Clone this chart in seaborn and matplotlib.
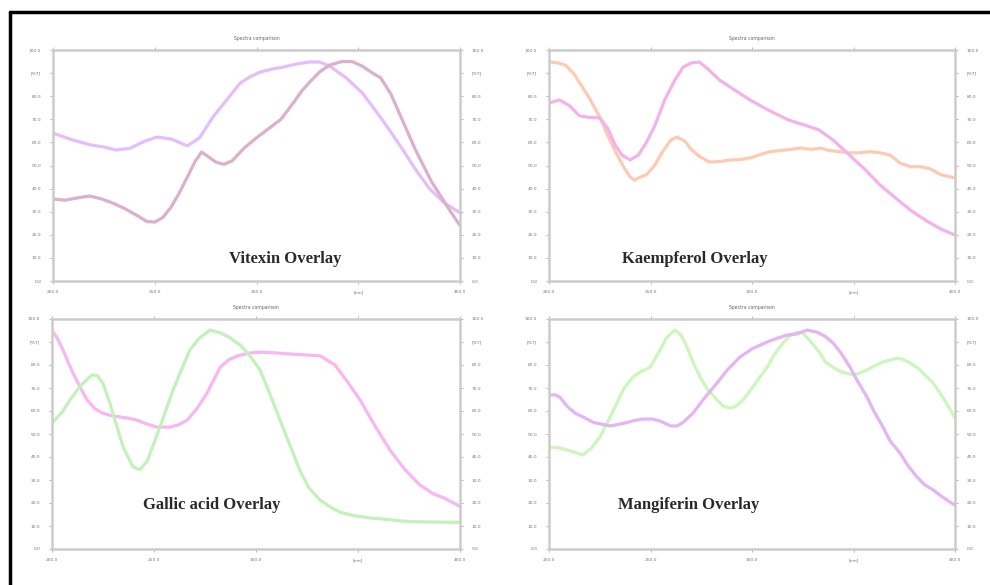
import numpy as np
import pandas as pd
import matplotlib
matplotlib.use("Agg")
import matplotlib.pyplot as plt
import seaborn as sns
from matplotlib.lines import Line2D

# ---------------- data ----------------
vit_lav_x = [200, 205, 210, 218, 225, 231, 238, 245, 251, 258, 266, 272, 278.6, 285, 292, 297, 302, 308, 313, 320, 326, 331, 336, 344, 352, 360, 366, 372, 378, 385, 392, 400]
vit_lav_y = [64, 62.5, 61, 59, 58, 56.7, 57.5, 60.5, 62.3, 61.5, 58.5, 62, 71, 78, 85.7, 88.5, 90.5, 91.8, 92.6, 94, 94.8, 94.8, 93, 88, 81.4, 72, 64.5, 56.7, 48.5, 40, 34, 29.5]
vit_mau_x = [200, 206, 212, 218, 224, 230, 236, 242, 246, 250, 254, 258, 262, 266, 270, 273, 276, 280, 284, 288, 294, 300, 306, 312, 318, 322, 326, 331, 336, 342, 347, 352, 357, 361, 366, 370, 374, 378, 382, 386, 390, 395, 400]
vit_mau_y = [35.5, 35, 36, 36.8, 35.5, 33.5, 31, 28, 25.8, 25.5, 27.5, 32, 38, 45, 52, 55.8, 54, 51.5, 50.5, 52, 57.6, 62, 66, 70, 77, 82, 86, 90.5, 93.5, 95, 95, 93, 90, 88, 81, 73, 65, 57, 50, 43, 37.5, 30.5, 24]

kae_ora_x = [200, 204, 208, 212, 215, 220, 225, 229, 233, 237, 240, 242, 245, 248, 252, 256, 260, 263, 267, 270, 274, 279, 285, 290, 294, 300, 305, 309, 314, 319, 324, 329, 334, 338, 343, 348, 353, 358, 363, 368, 373, 378, 383, 388, 393, 400]
kae_ora_y = [94.8, 94.5, 93.5, 90, 86, 79, 71, 63, 55.5, 49, 45, 43.7, 45, 46, 50, 56, 61, 62.3, 60.5, 57, 54, 51.5, 51.8, 52.5, 52.5, 53.5, 55, 56, 56.5, 57, 57.6, 57, 57.5, 56.5, 56, 55.5, 55.5, 56, 55.5, 54.5, 51, 49.5, 49.5, 48.5, 46, 44.6]
kae_mag_x = [200, 205, 210, 215, 220, 225, 229, 232.5, 236, 240, 244, 248, 252, 257, 262, 266, 270, 274, 278, 284, 290, 299, 308, 318, 326, 333, 340, 348, 356, 363, 370, 378, 386, 393, 400]
kae_mag_y = [77, 78.4, 76, 71.5, 70.8, 70.6, 66, 59, 54.5, 52.4, 54.5, 60, 67, 78.4, 87, 92.5, 94.4, 94.8, 92, 87, 83.5, 78.4, 74, 69.7, 67.5, 65.4, 61, 54.5, 48, 41.6, 36.5, 30.7, 26, 22.5, 19.9]

gal_mag_x = [200, 203, 205.4, 208, 210.3, 214, 217.2, 221, 225, 229, 233.3, 238, 241.7, 246, 251.5, 257.8, 262, 266.2, 271, 276, 282.4, 287, 292.2, 297, 302, 309, 316.7, 324, 331.4, 338.7, 345, 351, 358, 365.7, 373, 380.4, 387, 392.6, 400]
gal_mag_y = [95.2, 91, 86.5, 81, 76.5, 70, 64.8, 61, 59, 58, 57.4, 56.8, 56, 54.5, 53, 53, 54, 56, 61, 67.8, 79, 82.5, 84.3, 85.2, 85.6, 85.3, 84.8, 84.4, 84, 80, 72.5, 64.8, 54, 43, 34.5, 27.8, 24, 22, 18.5]
gal_grn_x = [200, 205, 208.8, 214, 219.6, 222, 225, 228.5, 231.9, 235, 239.7, 243, 246.6, 252.9, 259.3, 263, 267.6, 272, 277.5, 282.4, 287, 292.2, 297, 302, 307, 311.8, 316.7, 321.6, 326, 331.4, 336, 341.2, 348, 355.9, 365, 370.6, 380, 390.2, 400]
gal_grn_y = [54.8, 59.5, 64.8, 71, 75.7, 75.5, 72, 63, 53, 44, 35.7, 34.5, 38, 53, 69, 77, 86.5, 91.5, 95.2, 94, 92, 88.7, 84, 77.8, 67, 56, 45, 34, 26.5, 21.3, 18.5, 16, 14.5, 13.5, 12.8, 12.2, 11.8, 11.7, 11.6]

man_grn_x = [200, 205.4, 211, 216.7, 221, 225.1, 229, 233.5, 237, 241.4, 245, 249.8, 254.7, 258, 262.1, 265, 268, 271, 274.4, 278, 282.8, 286, 289.2, 292, 295.6, 300, 307.4, 311, 315.3, 318.5, 322.2, 325, 327.1, 330, 333.5, 336, 339.9, 344, 349.8, 353, 356.7, 360, 364.5, 371.4, 374, 377.8, 382, 389.2, 394, 400]
man_grn_y = [44.3, 43.9, 42.5, 40.9, 44, 48.7, 55.5, 63.5, 70, 74.8, 77, 79, 86.5, 92, 95.2, 93, 87.8, 81, 74.8, 69.5, 64.8, 62, 61.3, 62, 64.8, 70, 79, 84.5, 89.6, 92.5, 94.3, 94, 92, 89, 85.2, 81.5, 79, 77, 75.7, 76.5, 77.8, 79.5, 81.3, 83, 82.5, 80.9, 78.5, 72.2, 66, 57]
man_mag_x = [200, 203, 205.4, 209, 213, 216.7, 222, 230, 236, 241.4, 246, 251.2, 255, 260, 263.1, 266, 270.9, 276, 282.8, 288, 294.1, 300, 307.4, 312, 317.2, 322, 327.1, 332, 336, 339.9, 344, 348.3, 352, 356.7, 360, 364.5, 368, 372.9, 377, 381.3, 385, 389.2, 394, 400]
man_mag_y = [67, 67, 66, 62, 59, 57.4, 55, 53.5, 54.5, 55.7, 56.5, 56.5, 55.5, 53.5, 53.5, 55, 59, 65, 72.2, 78, 83.5, 87, 90, 91.5, 93, 93.5, 95.2, 94.3, 92.5, 89.6, 85, 79, 73, 66, 60, 53, 47, 41.7, 36, 31.3, 28, 25.7, 22.5, 19]

panel_labels = ["Vitexin Overlay", "Kaempferol Overlay", "Gallic acid Overlay", "Mangiferin Overlay"]
x_ticks = [200, 250, 300, 350, 400]
x_tick_labels = ["200.0", "250.0", "300.0", "[nm]", "400.0"]
y_ticks = [0, 10, 20, 30, 40, 50, 60, 70, 80, 90, 100]
y_tick_labels = ["0.0", "10.0", "20.0", "30.0", "40.0", "50.0", "60.0", "70.0", "80.0", "[%T]", "100.0"]

panels = [
    [(vit_lav_x, vit_lav_y, "#e4befc"), (vit_mau_x, vit_mau_y, "#dbb0cc")],
    [(kae_ora_x, kae_ora_y, "#ffcab2"), (kae_mag_x, kae_mag_y, "#f4b2ec")],
    [(gal_mag_x, gal_mag_y, "#fab6f2"), (gal_grn_x, gal_grn_y, "#c2f2ba")],
    [(man_grn_x, man_grn_y, "#ccf6bc"), (man_mag_x, man_mag_y, "#e4b4f4")],
]
label_pos = [(285, 259), (695, 259), (212, 505), (689, 505)]

# ---------------- figure ----------------
sns.set_style("white")
W, H = 990, 585
fig = plt.figure(figsize=(9.9, 5.85), dpi=100)

boxes = [(53, 50, 460, 281), (549, 50, 955, 281), (52, 319, 460, 549), (549, 319, 955, 549)]
axes = []
for (x0, y0, x1, y1) in boxes:
    ax = fig.add_axes([x0 / W, 1 - y1 / H, (x1 - x0) / W, (y1 - y0) / H])
    axes.append(ax)

for i, ax in enumerate(axes):
    for (xs, ys, col) in panels[i]:
        df = pd.DataFrame({"wl": xs, "val": ys})
        sns.lineplot(data=df, x="wl", y="val", ax=ax, color=col, lw=2.3,
                     estimator=None, sort=False, solid_joinstyle="round", solid_capstyle="round")
    ax.set_xlim(200, 400)
    ax.set_ylim(0, 100)
    ax.set_xticks(x_ticks)
    ax.set_xticklabels(x_tick_labels)
    ax.set_yticks(y_ticks)
    ax.set_yticklabels(y_tick_labels)
    ax.set_xlabel("")
    ax.set_ylabel("")
    for s in ax.spines.values():
        s.set_visible(True)
        s.set_color("#cccccc")
        s.set_linewidth(1.8)
    ax.tick_params(axis="both", which="both", direction="out", length=2.5, width=0.6,
                   color="#aaaaaa", labelsize=3.2, labelcolor="#777777",
                   top=True, right=True, bottom=True, left=True,
                   labelright=True, labelleft=True, labeltop=False, pad=6)
    ax.tick_params(axis="x", pad=4)
    ax.set_title("Spectra comparison", fontsize=3.3, color="#666666", pad=7)
    ax.set_facecolor("white")
    ax.grid(False)

for txt, (px, py) in zip(panel_labels, label_pos):
    fig.text(px / W, 1 - py / H, txt, ha="center", va="center",
             fontsize=12, fontweight="bold", family="Liberation Serif", color="#2a2a2a")

# outer frame (top & left)
fig.add_artist(Line2D([10 / W, 10 / W], [0, 1 - 12 / H], transform=fig.transFigure, color="black", lw=2.5))
fig.add_artist(Line2D([10 / W, 1], [1 - 12 / H, 1 - 12 / H], transform=fig.transFigure, color="black", lw=2.5))

fig.savefig("out.png", dpi=100)
